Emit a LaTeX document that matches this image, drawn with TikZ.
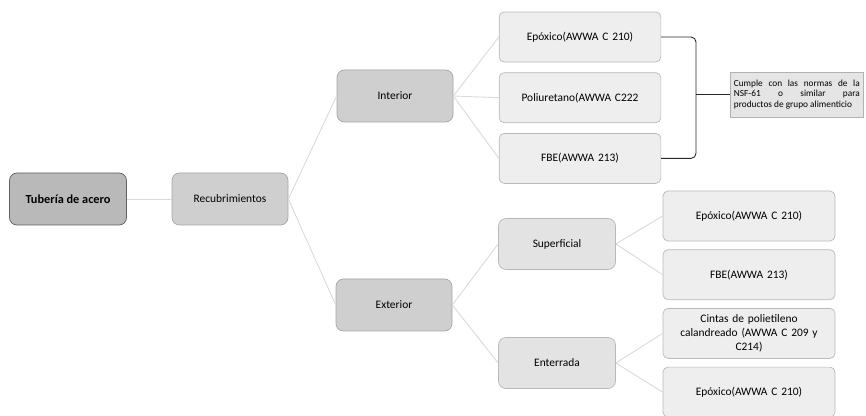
\documentclass[tikz,border=0pt]{standalone}
\usepackage{fontspec}
\setmainfont{Carlito}
\usetikzlibrary{positioning}

\begin{document}
\begin{tikzpicture}[
  root/.style={draw=gray!75!black, rounded corners=1.5mm, fill=gray!55,
               minimum width=2.34cm, minimum height=1.04cm,
               align=center, font=\fontsize{7}{8}\selectfont\bfseries},
  mid/.style={draw=gray!70, rounded corners=1.5mm, fill=gray!38,
              minimum width=2.32cm, minimum height=1.04cm,
              align=center, font=\fontsize{6.5}{8}\selectfont},
  sub/.style={draw=gray!55, rounded corners=1.5mm, fill=gray!22,
              minimum width=2.34cm, minimum height=1.02cm,
              align=center, font=\fontsize{6.5}{8}\selectfont},
  leaf/.style={draw=gray!55, rounded corners=1mm, fill=gray!13,
               minimum width=3.22cm, minimum height=1.0cm,
               text width=3.0cm, align=center, font=\fontsize{6.5}{8}\selectfont},
  nota/.style={draw=gray!60, fill=gray!20, minimum height=0.9cm,
               text width=2.52cm, align=justify, inner sep=2pt,
               font=\fontsize{5.3}{6.2}\selectfont},
  link/.style={gray!30, line width=0.5pt},
  brace/.style={gray!30!black, line width=0.5pt, rounded corners=1mm},
  ]
  \useasboundingbox (0,0) rectangle (17.32,-8.32);
  \clip (0,0) rectangle (17.32,-8.32);

  \node[root] (tubo) at (1.36,-3.98) {Tubería de acero};
  \node[mid] (recub) at (4.60,-3.98) {Recubrimientos};
  \node[mid] (inter) at (7.90,-1.92) {Interior};
  \node[mid] (exter) at (7.88,-6.10) {Exterior};

  % interior
  \node[leaf] (epint) at (11.60,-0.74) {Epóxico(AWWA C 210)};
  \node[leaf, below=0.2cm of epint] (poli) {Poliuretano(AWWA C222};
  \node[leaf, below=0.2cm of poli] (fbeint) {FBE(AWWA 213)};
  \coordinate (brk) at (13.92,-1.89);
  \node[nota, anchor=west] (norma) at (14.60,-1.89)
    {Cumple con las normas de la\linebreak NSF-61 o similar para\linebreak productos de grupo alimenticio};

  % exterior
  \node[sub] (sup) at (11.14,-4.88) {Superficial};
  \node[sub] (ent) at (11.14,-7.26) {Enterrada};
  \node[leaf, minimum width=3.44cm] (epsup) at (14.98,-4.32) {Epóxico(AWWA C 210)};
  \node[leaf, minimum width=3.44cm, below=0.16cm of epsup] (fbesup) {FBE(AWWA 213)};
  \node[leaf, minimum width=3.44cm, below=0.16cm of fbesup] (cintas) {Cintas de polietileno\\calandreado (AWWA C 209 y\\C214)};
  \node[leaf, minimum width=3.44cm, below=0.16cm of cintas] (epent) {Epóxico(AWWA C 210)};

  \draw[link] (tubo) -- (recub);
  \draw[link] (recub.east) -- (inter.west);
  \draw[link] (recub.east) -- (exter.west);
  \draw[link] (inter.east) -- (epint.west);
  \draw[link] (inter.east) -- (poli.west);
  \draw[link] (inter.east) -- (fbeint.west);
  \draw[link] (exter.east) -- (sup.west);
  \draw[link] (exter.east) -- (ent.west);
  \draw[link] (sup.east) -- (epsup.west);
  \draw[link] (sup.east) -- (fbesup.west);
  \draw[link] (ent.east) -- (cintas.west);
  \draw[link] (ent.east) -- (epent.west);

  \draw[brace] (epint.east) -| (brk);
  \draw[brace] (fbeint.east) -| (brk);
  \draw[brace] (brk) -- (norma.west);
\end{tikzpicture}
\end{document}
